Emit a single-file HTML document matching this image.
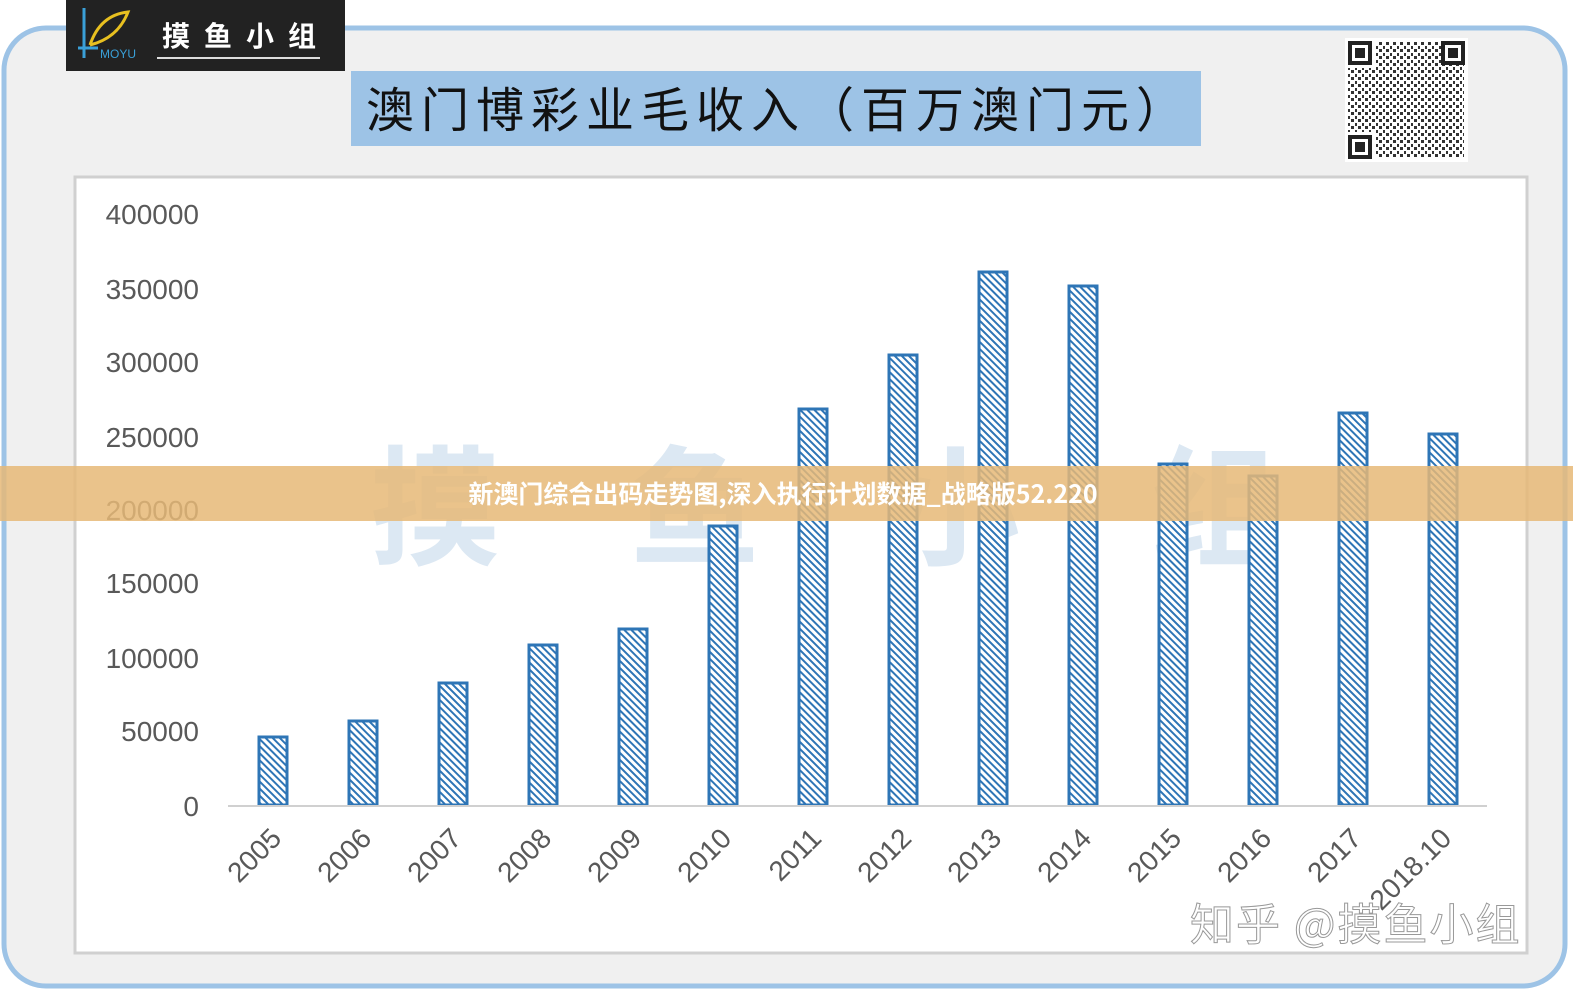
<!DOCTYPE html>
<html><head><meta charset="utf-8"><style>
body{margin:0;width:1573px;height:991px;overflow:hidden;background:#fff;font-family:"Liberation Sans","Noto Sans CJK SC",sans-serif}
</style></head><body>
<svg width="1573" height="991" xmlns="http://www.w3.org/2000/svg" style="position:absolute;left:0;top:0">
<defs>
<pattern id="h" width="5" height="5" patternUnits="userSpaceOnUse" patternTransform="rotate(-45)">
<rect width="5" height="5" fill="#fff"/><rect width="2" height="5" fill="#2e75b6"/>
</pattern>
<pattern id="q" width="7" height="7" patternUnits="userSpaceOnUse">
<rect width="7" height="7" fill="#fff"/><rect width="3" height="3" fill="#333"/><rect x="4" y="4" width="2" height="3" fill="#333"/>
</pattern>
</defs>
<rect x="4" y="28" width="1561" height="958" rx="42" fill="#f0f0f0" stroke="#9dc3e6" stroke-width="5"/>
<rect x="75" y="177" width="1452" height="776" fill="#fff" stroke="#d0d0d0" stroke-width="3"/>
<text x="370" y="555" font-size="130" fill="#dce8f3" font-weight="bold" letter-spacing="130" font-family="Noto Sans CJK SC">摸鱼小组</text>
<rect x="66" y="0" width="279" height="71" fill="#222"/>
<line x1="84" y1="8" x2="84" y2="58" stroke="#3aa0d8" stroke-width="3"/>
<line x1="78" y1="48" x2="98" y2="48" stroke="#3aa0d8" stroke-width="3"/>
<path d="M90 45 Q100 15 128 12 Q118 38 90 45" fill="none" stroke="#e8c020" stroke-width="3"/>
<text x="100" y="58" font-size="12" fill="#3aa0d8">MOYU</text>
<text x="162" y="46" font-size="28" fill="#fff" font-weight="bold" letter-spacing="14" font-family="Noto Sans CJK SC">摸鱼小组</text>
<line x1="157" y1="58" x2="320" y2="58" stroke="#ddd" stroke-width="2"/>
<rect x="351" y="71" width="850" height="75" fill="#9dc3e6"/>
<text x="366" y="127" font-size="48" fill="#111" letter-spacing="7" font-family="Noto Sans CJK SC">澳门博彩业毛收入（百万澳门元）</text>
<rect x="1345" y="38" width="123" height="124" fill="#fff"/>
<rect x="1376" y="42" width="88" height="116" fill="url(#q)"/>
<rect x="1348" y="68" width="30" height="64" fill="url(#q)"/>
<g fill="#222">
<rect x="1348" y="41" width="24" height="24"/><rect x="1441" y="41" width="24" height="24"/><rect x="1348" y="135" width="24" height="24"/>
</g>
<g fill="#fff"><rect x="1352" y="45" width="16" height="16"/><rect x="1445" y="45" width="16" height="16"/><rect x="1352" y="139" width="16" height="16"/></g>
<g fill="#222"><rect x="1355" y="48" width="10" height="10"/><rect x="1448" y="48" width="10" height="10"/><rect x="1355" y="142" width="10" height="10"/></g>
<g font-size="28" fill="#595959" text-anchor="end">
<text x="199" y="224">400000</text><text x="199" y="299">350000</text><text x="199" y="372">300000</text>
<text x="199" y="447">250000</text><text x="199" y="520">200000</text><text x="199" y="593">150000</text>
<text x="199" y="668">100000</text><text x="199" y="741">50000</text><text x="199" y="816">0</text>
</g>
<g fill="url(#h)" stroke="#2e75b6" stroke-width="3">
<rect x="259" y="737" width="28" height="68"/>
<rect x="349" y="721" width="28" height="84"/>
<rect x="439" y="683" width="28" height="122"/>
<rect x="529" y="645" width="28" height="160"/>
<rect x="619" y="629" width="28" height="176"/>
<rect x="709" y="526" width="28" height="279"/>
<rect x="799" y="409" width="28" height="396"/>
<rect x="889" y="355" width="28" height="450"/>
<rect x="979" y="272" width="28" height="533"/>
<rect x="1069" y="286" width="28" height="519"/>
<rect x="1159" y="464" width="28" height="341"/>
<rect x="1249" y="476" width="28" height="329"/>
<rect x="1339" y="413" width="28" height="392"/>
<rect x="1429" y="434" width="28" height="371"/>
</g>
<line x1="228" y1="806" x2="1487" y2="806" stroke="#d0d0d0" stroke-width="2"/>
<g font-size="28" fill="#595959" text-anchor="end">
<text transform="translate(283,840) rotate(-45)">2005</text>
<text transform="translate(373,840) rotate(-45)">2006</text>
<text transform="translate(463,840) rotate(-45)">2007</text>
<text transform="translate(553,840) rotate(-45)">2008</text>
<text transform="translate(643,840) rotate(-45)">2009</text>
<text transform="translate(733,840) rotate(-45)">2010</text>
<text transform="translate(823,840) rotate(-45)">2011</text>
<text transform="translate(913,840) rotate(-45)">2012</text>
<text transform="translate(1003,840) rotate(-45)">2013</text>
<text transform="translate(1093,840) rotate(-45)">2014</text>
<text transform="translate(1183,840) rotate(-45)">2015</text>
<text transform="translate(1273,840) rotate(-45)">2016</text>
<text transform="translate(1363,840) rotate(-45)">2017</text>
<text transform="translate(1453,840) rotate(-45)">2018.10</text>
</g>
<text x="1190" y="940" font-size="44" fill="#fff" stroke="#999" stroke-width="1" letter-spacing="2" font-family="Noto Sans CJK SC">知乎 @摸鱼小组</text>
<rect x="0" y="466" width="1573" height="55" fill="#e6b877" opacity="0.85"/>
<text x="783" y="503" font-size="25" fill="#fff" font-weight="bold" text-anchor="middle" font-family="Noto Sans CJK SC">新澳门综合出码走势图,深入执行计划数据_战略版52.220</text>
</svg>
</body></html>
